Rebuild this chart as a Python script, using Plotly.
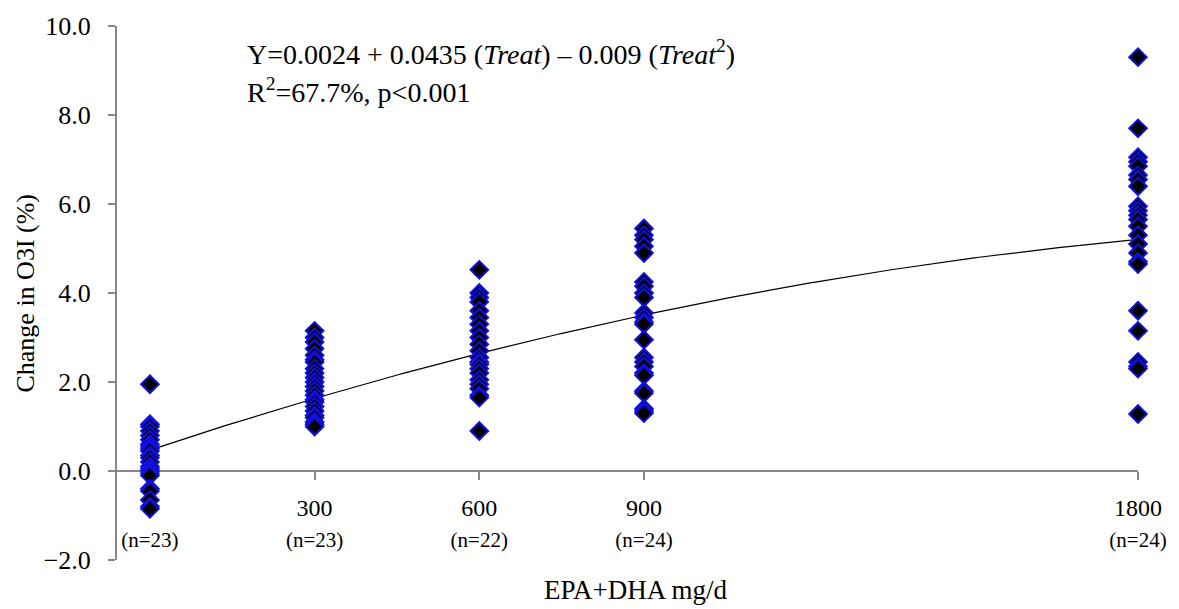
import numpy as np
import plotly.graph_objects as go

# Dose groups (EPA+DHA mg/d) and the sample size shown under each tick
doses = [0, 300, 600, 900, 1800]
group_n = ["n=23", "n=23", "n=22", "n=24", "n=24"]

# Change in Omega-3 Index (%) for each participant, by dose group
change_0 = [1.95, 1.05, 1.0, 0.9, 0.8, 0.7, 0.6, 0.55, 0.5, 0.45, 0.35, 0.3,
            0.2, 0.1, 0.05, 0.0, -0.05, -0.1, -0.4, -0.45, -0.65, -0.8, -0.85]
change_300 = [3.15, 3.0, 2.9, 2.75, 2.6, 2.5, 2.45, 2.3, 2.2, 2.1, 2.0, 1.9,
              1.8, 1.7, 1.6, 1.55, 1.45, 1.35, 1.25, 1.2, 1.1, 1.05, 1.0]
change_600 = [4.52, 4.0, 3.9, 3.8, 3.6, 3.45, 3.3, 3.15, 3.0, 2.85, 2.7, 2.55,
              2.45, 2.4, 2.3, 2.2, 2.05, 1.95, 1.85, 1.7, 1.65, 0.9]
change_900 = [5.45, 5.3, 5.2, 5.05, 4.9, 4.25, 4.15, 4.0, 3.9, 3.55, 3.45, 3.35,
              3.3, 2.95, 2.55, 2.45, 2.35, 2.2, 2.15, 1.8, 1.75, 1.4, 1.35, 1.3]
change_1800 = [9.3, 7.7, 7.05, 6.95, 6.85, 6.65, 6.55, 6.4, 5.95, 5.85, 5.75, 5.65,
               5.5, 5.3, 5.1, 4.9, 4.7, 4.65, 3.6, 3.15, 2.45, 2.35, 2.3, 1.28]

groups = [change_0, change_300, change_600, change_900, change_1800]

x_pts = [d for d, g in zip(doses, groups) for _ in g]
y_pts = [v for g in groups for v in g]

# Second-order polynomial trend through all participants
coef = np.polyfit(x_pts, y_pts, 2)
x_fit = np.linspace(min(doses), max(doses), 200)
y_fit = np.polyval(coef, x_fit)

SERIF = "Liberation Serif"
AXIS_GREY = "#878787"

tick_text = [
    (f"{d}" if d else "&nbsp;") + f"<br><span style='font-size:21px'>({n})</span>"
    for d, n in zip(doses, group_n)
]

fig = go.Figure()
fig.add_trace(go.Scatter(
    x=x_fit, y=y_fit, mode="lines",
    line=dict(color="black", width=1.2),
    hoverinfo="skip", showlegend=False,
))
fig.add_trace(go.Scatter(
    x=x_pts, y=y_pts, mode="markers",
    marker=dict(symbol="diamond", size=13.5, color="black",
                line=dict(color="#1010e0", width=2)),
    cliponaxis=False, showlegend=False,
))

fig.update_layout(
    width=1179, height=609,
    margin=dict(l=117, r=37, t=20, b=49),
    plot_bgcolor="white", paper_bgcolor="white",
    font=dict(family=SERIF, color="black"),
    xaxis=dict(
        range=[-60, 1800],
        anchor="free", position=1 / 6,
        tickvals=doses, ticktext=tick_text,
        tickfont=dict(family=SERIF, size=24, color="black"),
        showline=True, linecolor=AXIS_GREY, linewidth=2,
        ticks="outside", ticklen=8, tickwidth=2, tickcolor=AXIS_GREY,
        ticklabelstandoff=7,
        showgrid=False, zeroline=False, layer="below traces",
    ),
    yaxis=dict(
        range=[-2, 10], tickvals=[-2, 0, 2, 4, 6, 8, 10],
        tickformat=".1f",
        tickfont=dict(family=SERIF, size=26, color="black"),
        showline=True, linecolor=AXIS_GREY, linewidth=2,
        ticks="outside", ticklen=7, tickwidth=2, tickcolor=AXIS_GREY,
        ticklabelstandoff=12,
        showgrid=False, zeroline=False, layer="below traces",
    ),
)

fig.add_annotation(
    text="Y=0.0024 + 0.0435 (<i>Treat</i>) – 0.009 (<i>Treat</i><sup>2</sup>)",
    xref="paper", yref="paper", x=0.1249, y=0.95,
    xanchor="left", yanchor="middle", showarrow=False,
    font=dict(family=SERIF, size=28, color="black"),
)
fig.add_annotation(
    text="R<sup>2</sup>=67.7%, p&lt;0.001",
    xref="paper", yref="paper", x=0.1249, y=0.8796,
    xanchor="left", yanchor="middle", showarrow=False,
    font=dict(family=SERIF, size=28, color="black"),
)
fig.add_annotation(
    text="EPA+DHA mg/d",
    xref="paper", yref="paper", x=0.5086, y=-0.056,
    xanchor="center", yanchor="middle", showarrow=False,
    font=dict(family=SERIF, size=27, color="black"),
)
fig.add_annotation(
    text="Change in O3I (%)", textangle=-90,
    xref="paper", yref="paper", x=-0.0898, y=0.4996,
    xanchor="center", yanchor="middle", showarrow=False,
    font=dict(family=SERIF, size=26, color="black"),
)

fig.write_html("out.html")
